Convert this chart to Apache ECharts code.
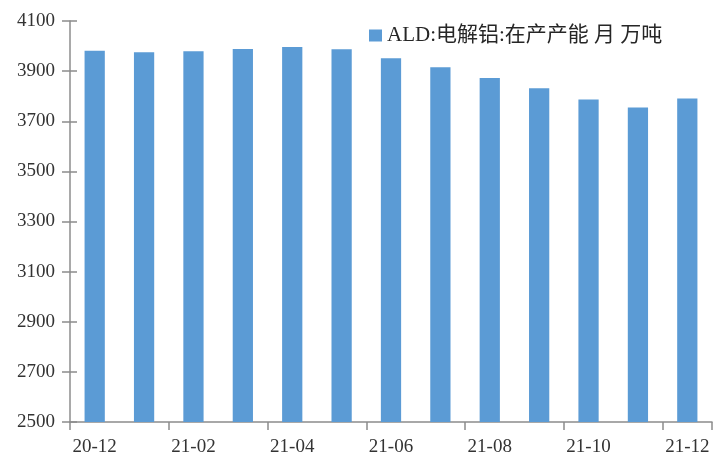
<!DOCTYPE html>
<html>
<head>
<meta charset="utf-8">
<script src="https://cdn.jsdelivr.net/npm/echarts@6/dist/echarts.min.js"></script>
<style>
  html, body { margin: 0; padding: 0; background: #fff; }
  #main { width: 726px; height: 458px; }
</style>
</head>
<body>
<div id="main"></div>
<script>
// 月份
var months = ['20-12', '21-01', '21-02', '21-03', '21-04', '21-05', '21-06',
              '21-07', '21-08', '21-09', '21-10', '21-11', '21-12'];
// 在产产能（万吨）
var capacity = [3981, 3975, 3979, 3988, 3996, 3987, 3951, 3915, 3873, 3832, 3787, 3755, 3791];
var seriesName = 'ALD:电解铝:在产产能 月 万吨';
var yMin = 2500, yMax = 4100, yStep = 200;

var serif = '"Liberation Serif", "Noto Sans CJK SC", serif';
var axisGray = '#8c8c8c';

var myChart = echarts.init(document.getElementById('main'));

var option = {
    animation: false,
    color: ['#5b9bd5'],
    textStyle: { fontFamily: serif },
    legend: {
        left: 364,
        top: 20,
        itemWidth: 13,
        itemHeight: 12,
        itemGap: 6,
        icon: 'rect',
        textStyle: { fontSize: 21, color: '#262626', fontFamily: serif },
        data: [seriesName]
    },
    grid: {
        left: 70,
        right: 14,
        top: 21,
        bottom: 36,
        containLabel: false
    },
    xAxis: {
        type: 'category',
        data: months,
        axisLine: { lineStyle: { color: axisGray, width: 1.5 } },
        axisTick: { show: true, interval: 1, length: 8, lineStyle: { color: axisGray, width: 1.5 } },
        axisLabel: { interval: 1, margin: 16, fontSize: 19, color: '#333', fontFamily: serif }
    },
    yAxis: [{
        type: 'value',
        min: yMin,
        max: yMax,
        interval: yStep,
        splitLine: { show: false },
        axisLine: { show: true, lineStyle: { color: axisGray, width: 1.5 } },
        axisTick: { show: true, length: 8, lineStyle: { color: axisGray, width: 1.5 } },
        axisLabel: {
            margin: 15, fontSize: 19, color: '#333', fontFamily: serif,
            formatter: function (v) { return String(v); }
        }
    }, {
        // 右侧半截刻度，做出穿轴的效果
        type: 'value',
        position: 'left',
        min: yMin,
        max: yMax,
        interval: yStep,
        splitLine: { show: false },
        axisLine: { show: false },
        axisTick: { show: true, inside: true, length: 7, lineStyle: { color: axisGray, width: 1.5 } },
        axisLabel: { show: false }
    }],
    series: [{
        name: seriesName,
        type: 'bar',
        barWidth: '41%',
        data: capacity
    }]
};
myChart.setOption(option);
</script>
</body>
</html>
